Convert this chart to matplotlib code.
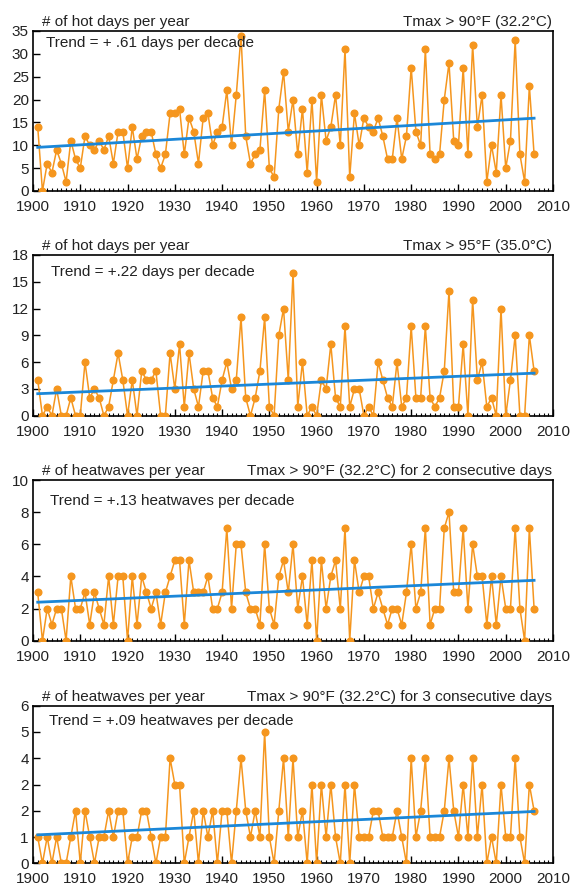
import numpy as np
import matplotlib
matplotlib.use("Agg")
import matplotlib.pyplot as plt
from matplotlib.ticker import MultipleLocator

plt.rcParams['font.family'] = ['Liberation Sans', 'DejaVu Sans']

years = list(range(1901, 2007))

hot90 = [14, 0, 6, 4, 9, 6, 2, 11, 7, 5,
         12, 10, 9, 11, 9, 12, 6, 13, 13, 5,
         14, 7, 12, 13, 13, 8, 5, 8, 17, 17,
         18, 8, 16, 13, 6, 16, 17, 10, 13, 14,
         22, 10, 21, 34, 12, 6, 8, 9, 22, 5,
         3, 18, 26, 13, 20, 8, 18, 4, 20, 2,
         21, 11, 14, 21, 10, 31, 3, 17, 10, 16,
         14, 13, 16, 12, 7, 7, 16, 7, 12, 27,
         13, 10, 31, 8, 7, 8, 20, 28, 11, 10,
         27, 8, 32, 14, 21, 2, 10, 4, 21, 5,
         11, 33, 8, 2, 23, 8]

hot95 = [4, 0, 1, 0, 3, 0, 0, 2, 0, 0,
         6, 2, 3, 2, 0, 1, 4, 7, 4, 0,
         4, 0, 5, 4, 4, 5, 0, 0, 7, 3,
         8, 1, 7, 3, 1, 5, 5, 2, 1, 4,
         6, 3, 4, 11, 2, 0, 2, 5, 11, 1,
         0, 9, 12, 4, 16, 1, 6, 0, 1, 0,
         4, 3, 8, 2, 1, 10, 1, 3, 3, 0,
         1, 0, 6, 4, 2, 1, 6, 1, 2, 10,
         2, 2, 10, 2, 1, 2, 5, 14, 1, 1,
         8, 0, 13, 4, 6, 1, 2, 0, 12, 0,
         4, 9, 0, 0, 9, 5]

hw2 = [3, 0, 2, 1, 2, 2, 0, 4, 2, 2,
       3, 1, 3, 2, 1, 4, 1, 4, 4, 0,
       4, 1, 4, 3, 2, 3, 1, 3, 4, 5,
       5, 1, 5, 3, 3, 3, 4, 2, 2, 3,
       7, 2, 6, 6, 3, 2, 2, 1, 6, 2,
       1, 4, 5, 3, 6, 2, 4, 1, 5, 0,
       5, 2, 4, 5, 2, 7, 0, 5, 3, 4,
       4, 2, 3, 2, 1, 2, 2, 1, 3, 6,
       2, 3, 7, 1, 2, 2, 7, 8, 3, 3,
       7, 2, 6, 4, 4, 1, 4, 1, 4, 2,
       2, 7, 2, 0, 7, 2]

hw3 = [1, 0, 1, 0, 1, 0, 0, 1, 2, 0,
       2, 1, 0, 1, 1, 2, 1, 2, 2, 0,
       1, 1, 2, 2, 1, 0, 1, 1, 4, 3,
       3, 0, 1, 2, 0, 2, 1, 2, 0, 2,
       2, 0, 2, 4, 2, 1, 2, 1, 5, 1,
       0, 2, 4, 1, 4, 1, 2, 0, 3, 0,
       3, 1, 3, 1, 0, 3, 0, 3, 1, 1,
       1, 2, 2, 1, 1, 1, 2, 1, 0, 4,
       1, 2, 4, 1, 1, 1, 2, 4, 2, 1,
       3, 1, 4, 1, 3, 0, 1, 0, 3, 1,
       1, 4, 1, 0, 3, 2]

series = [hot90, hot95, hw2, hw3]
left_titles = ["# of hot days per year", "# of hot days per year",
               "# of heatwaves per year", "# of heatwaves per year"]
right_titles = ["Tmax > 90°F (32.2°C)", "Tmax > 95°F (35.0°C)",
                "Tmax > 90°F (32.2°C) for 2 consecutive days",
                "Tmax > 90°F (32.2°C) for 3 consecutive days"]
trend_texts = ["Trend = + .61 days per decade", "Trend = +.22 days per decade",
               "Trend = +.13 heatwaves per decade", "Trend = +.09 heatwaves per decade"]
y_max = [35, 18, 10, 6]
y_step = [5, 3, 2, 1]
y_labels_last = ['0', '1', '2', '2', '4', '5', '6']
x_ticks = list(range(1900, 2011, 10))

W, H = 571, 888
fig = plt.figure(figsize=(W / 100, H / 100), dpi=100)

# panel frames in pixels: (top, bottom)
frames = [(31, 191), (255, 415.7), (480, 640.7), (705.7, 863.3)]
left_px, right_px = 33, 553
trend_pos = [(0.025, 0.925), (0.034, 0.896), (0.033, 0.869), (0.031, 0.905)]

orange = '#F5961E'
blue = '#1B87D8'

for i, (top, bot) in enumerate(frames):
    ax = fig.add_axes([left_px / W, 1 - bot / H, (right_px - left_px) / W, (bot - top) / H])
    y = np.array(series[i], dtype=float)
    x = np.array(years, dtype=float)
    ax.plot(x, y, color=orange, lw=1.1, marker='o', ms=4.8, mec=orange, mfc=orange, zorder=3)
    k, b = np.polyfit(x, y, 1)
    ax.plot([x[0], x[-1]], [k * x[0] + b, k * x[-1] + b], color=blue, lw=2.0, zorder=4)
    ax.set_xlim(1900, 2010)
    ax.set_ylim(0, y_max[i])
    ax.set_xticks(x_ticks)
    ax.xaxis.set_minor_locator(MultipleLocator(1))
    yt = np.arange(0, y_max[i] + 0.01, y_step[i])
    ax.set_yticks(yt)
    if i == 3:
        ax.set_yticklabels(y_labels_last)
    ax.tick_params(axis='both', which='major', direction='in', length=5, width=1.0,
                   labelsize=11, colors='black', labelcolor='#222222')
    ax.tick_params(axis='x', which='major', pad=6.5)
    ax.tick_params(axis='y', which='major', pad=3)
    ax.tick_params(axis='x', which='minor', direction='in', length=2.5, width=0.8)
    ax.tick_params(axis='y', which='minor', left=False)
    for s in ax.spines.values():
        s.set_linewidth(1.2)
        s.set_color('black')
    ax.text(0.017, 1.012, left_titles[i], transform=ax.transAxes, ha='left', va='bottom',
            fontsize=11, color='#222222')
    ax.text(0.998, 1.012, right_titles[i], transform=ax.transAxes, ha='right', va='bottom',
            fontsize=11, color='#222222')
    ax.text(trend_pos[i][0], trend_pos[i][1], trend_texts[i], transform=ax.transAxes,
            ha='left', va='center', fontsize=11, color='#222222', zorder=5)

fig.savefig('out.png', dpi=100)
